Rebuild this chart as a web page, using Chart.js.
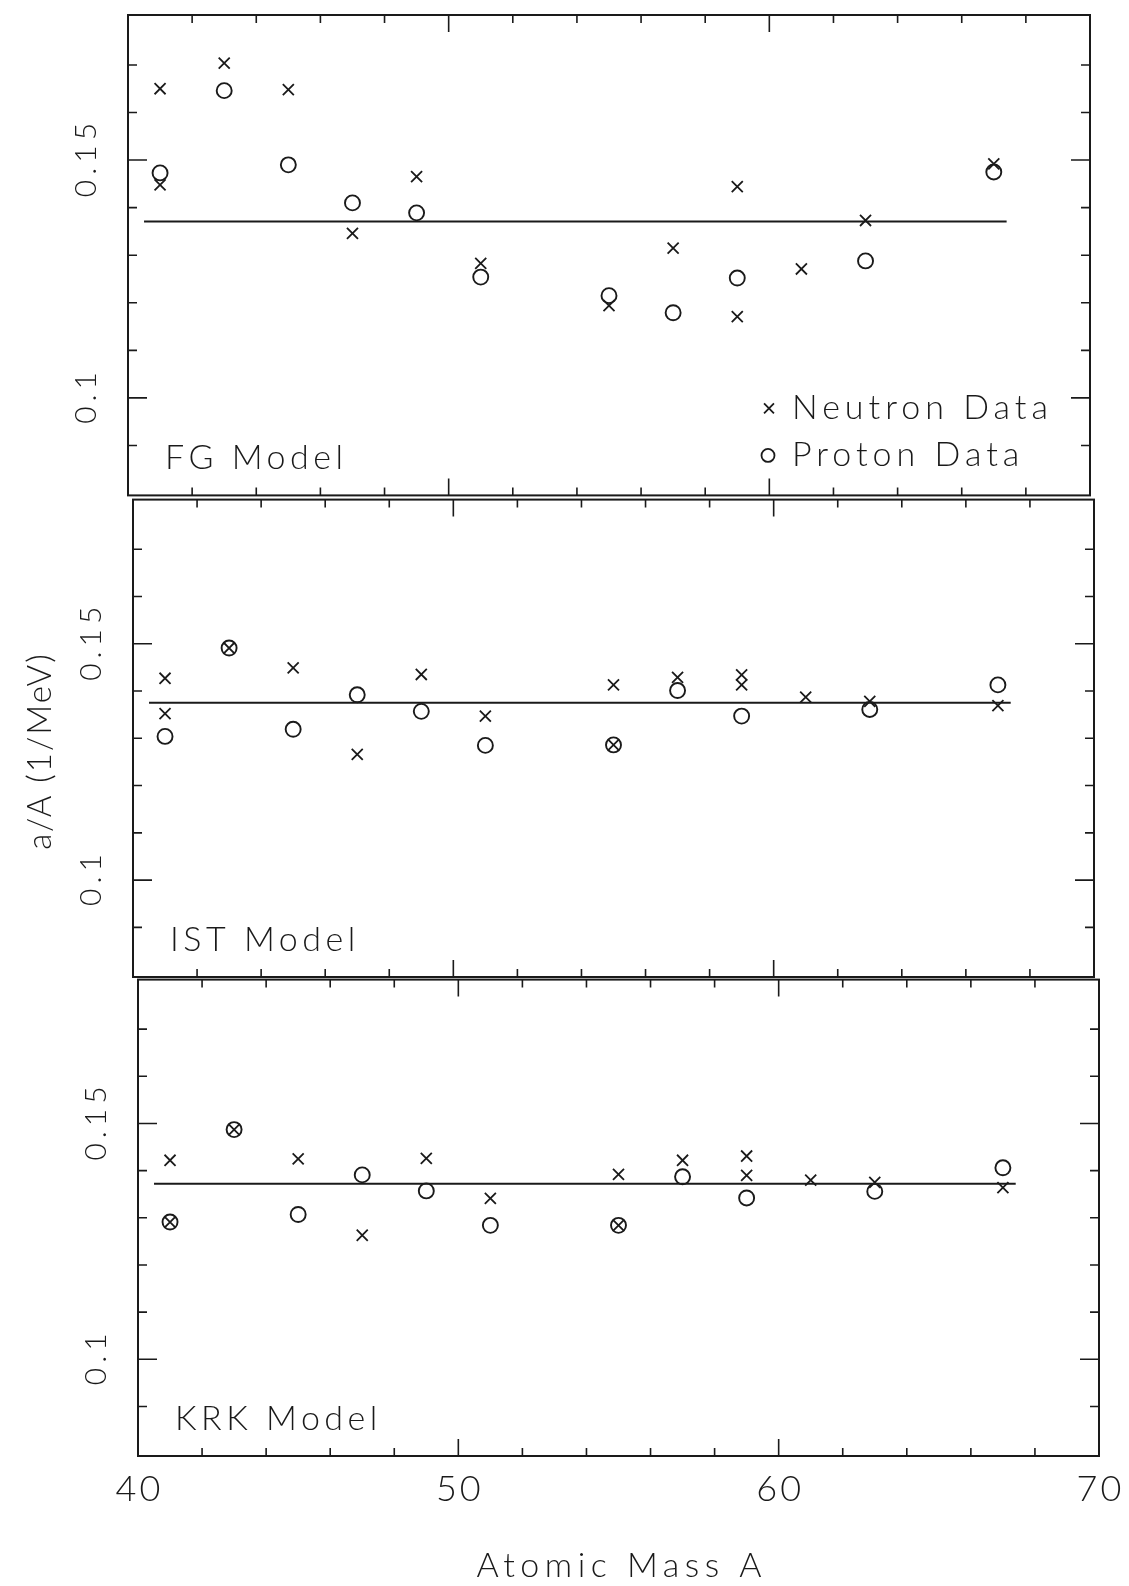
<!DOCTYPE html>
<html><head><meta charset="utf-8">
<script src="https://cdn.jsdelivr.net/npm/chart.js@4.4.1/dist/chart.umd.min.js"></script>
<style>
html,body{margin:0;padding:0;background:#fff;}
#wrap{position:relative;width:1129px;height:1586px;overflow:hidden;background:#fff;}
canvas{position:absolute;left:0;}
</style></head><body>
<div id="wrap">
<canvas id="c1" width="1129" height="505" style="top:0px"></canvas>
<canvas id="c2" width="1129" height="500" style="top:490px"></canvas>
<canvas id="c3" width="1129" height="616" style="top:970px"></canvas>
</div>
<script>
// ---------- data ----------
const fgNeutronA = [41,41,43,45,47,49,51,55,57,59,59,61,63,67];
const fgNeutron  = [0.1650,0.1448,0.1704,0.1648,0.1346,0.1465,0.1283,0.1194,0.1315,0.1444,0.1171,0.1271,0.1373,0.1492];
const fgProtonA  = [41,43,45,47,49,51,55,57,59,63,67];
const fgProton   = [0.1473,0.1646,0.1490,0.1410,0.1389,0.1254,0.1215,0.1179,0.1252,0.1288,0.1475];

const istNeutronA = [41,41,43,45,47,49,51,55,55,57,59,59,61,63,67];
const istNeutron  = [0.1427,0.1352,0.1491,0.1449,0.1266,0.1435,0.1347,0.1413,0.1286,0.1429,0.1434,0.1413,0.1387,0.1378,0.1369];
const istProtonA  = [41,43,45,47,49,51,55,57,59,63,67];
const istProton   = [0.1304,0.1491,0.1319,0.1392,0.1357,0.1285,0.1286,0.1401,0.1347,0.1361,0.1413];

const krkNeutronA = [41,41,43,45,47,49,51,55,55,57,59,59,61,63,67];
const krkNeutron  = [0.1422,0.1291,0.1487,0.1425,0.1263,0.1426,0.1341,0.1392,0.1284,0.1422,0.1431,0.1390,0.1380,0.1375,0.1364];
const krkProtonA  = [41,43,45,47,49,51,55,57,59,63,67];
const krkProton   = [0.1291,0.1487,0.1307,0.1391,0.1357,0.1284,0.1284,0.1387,0.1342,0.1356,0.1406];

const lineA    = [40.5, 67.4];
const fgLine   = 0.1371;
const istLine  = 0.1375;
const krkLine  = 0.1372;

const panelNames   = ['FG Model','IST Model','KRK Model'];
const legendNames  = ['Neutron Data','Proton Data'];
const xTitle = 'Atomic Mass A';
const yTitle = 'a/A (1/MeV)';

const xMinorTicks = [42,44,46,48,52,54,56,58,62,64,66,68];
const xMajorTicks = [50,60];
const yMinorTicks = [0.09,0.11,0.12,0.13,0.14,0.16,0.17];
const yMajorTicks = [0.10,0.15];
const xTickValues = [40,50,60,70];
const xTickLabels = ['40','50','60','70'];
const yTickValues = [0.10,0.15];
const yTickLabels = ['0.1','0.15'];

// ---------- build ----------
function pts(a, v){ return a.map((x,i)=>({x:x, y:v[i]})); }
const FONT = 'Lato, "DejaVu Sans", sans-serif';
const INK = '#1a1a1a';

function drawText(ctx, txt, x, y, size, spacing, align, rot){
  ctx.save();
  ctx.translate(x, y);
  if (rot) ctx.rotate(rot);
  ctx.font = '300 ' + size + 'px ' + FONT;
  try { ctx.letterSpacing = spacing + 'px'; } catch(e) {}
  ctx.fillStyle = INK;
  ctx.textBaseline = 'middle';
  let w = ctx.measureText(txt).width;
  let sx = align === 'center' ? -w/2 + spacing/2 : 0;
  ctx.textAlign = 'left';
  ctx.fillText(txt, sx, 0);
  ctx.restore();
}

const framePlugin = {
  id: 'frame',
  afterDraw(chart){
    const o = chart.options.plugins.frame;
    const ctx = chart.ctx;
    const {left, right, top, bottom} = chart.chartArea;
    const xs = chart.scales.x, ys = chart.scales.y;
    ctx.save();
    ctx.strokeStyle = INK;
    ctx.lineWidth = 2;
    ctx.strokeRect(left, top, right-left, bottom-top);
    ctx.lineWidth = 1.6;
    ctx.beginPath();
    xMinorTicks.concat(xMajorTicks).forEach(v=>{
      const L = xMajorTicks.includes(v) ? 17 : 8;
      const px = xs.getPixelForValue(v);
      ctx.moveTo(px, top); ctx.lineTo(px, top+L);
      ctx.moveTo(px, bottom); ctx.lineTo(px, bottom-L);
    });
    yMinorTicks.concat(yMajorTicks).forEach(v=>{
      const L = yMajorTicks.includes(v) ? 19 : 9;
      const py = ys.getPixelForValue(v);
      ctx.moveTo(left, py); ctx.lineTo(left+L, py);
      ctx.moveTo(right, py); ctx.lineTo(right-L, py);
    });
    ctx.stroke();
    ctx.restore();

    // y tick labels (rotated)
    yTickValues.forEach((v,i)=>{
      drawText(ctx, yTickLabels[i], left-42, ys.getPixelForValue(v), 30, 5, 'center', -Math.PI/2);
    });
    // panel name
    drawText(ctx, o.name, left+37, bottom-37, 34, 4.5, 'left', 0);

    if (o.legend){
      const Hh = Chart.helpers;
      ctx.save();
      ctx.strokeStyle = INK; ctx.fillStyle = 'rgba(0,0,0,0)'; ctx.lineWidth = 1.8;
      Hh.drawPoint(ctx, {pointStyle:'crossRot', radius:7, borderWidth:1.8}, 769, bottom-87);
      Hh.drawPoint(ctx, {pointStyle:'circle', radius:6.5, borderWidth:1.8}, 768, bottom-40);
      ctx.restore();
      drawText(ctx, legendNames[0], 792, bottom-87, 34, 5, 'left', 0);
      drawText(ctx, legendNames[1], 792, bottom-40, 34, 5, 'left', 0);
    }
    if (o.xLabels){
      xTickValues.forEach((v,i)=>{
        drawText(ctx, xTickLabels[i], xs.getPixelForValue(v), bottom+33, 36, 3, 'center', 0);
      });
      drawText(ctx, xTitle, 619, bottom+110, 34, 5.5, 'center', 0);
    }
    if (o.yTitle){
      drawText(ctx, yTitle, 40, o.yTitleY, 33, 2, 'center', -Math.PI/2);
    }
  }
};
Chart.register(framePlugin);

const panels = [
  {id:'c1', top:0,   h:505, area:{l:128,r:1090,t:15, b:497},  name:panelNames[0], n:pts(fgNeutronA,fgNeutron),  p:pts(fgProtonA,fgProton),  line:fgLine,  legend:true},
  {id:'c2', top:490, h:500, area:{l:133,r:1094,t:497,b:977},  name:panelNames[1], n:pts(istNeutronA,istNeutron), p:pts(istProtonA,istProton), line:istLine, yTitle:true},
  {id:'c3', top:970, h:616, area:{l:138,r:1099,t:977,b:1456}, name:panelNames[2], n:pts(krkNeutronA,krkNeutron), p:pts(krkProtonA,krkProton), line:krkLine, xLabels:true}
];

panels.forEach(P=>{
  new Chart(document.getElementById(P.id), {
    type:'scatter',
    data:{datasets:[
      {type:'line', data:lineA.map(a=>({x:a,y:P.line})), borderColor:INK, borderWidth:2, pointRadius:0, fill:false, order:3},
      {label:legendNames[1], data:P.p, pointStyle:'circle', pointRadius:7.5, borderWidth:1.9, borderColor:INK, backgroundColor:'rgba(0,0,0,0)', order:2},
      {label:legendNames[0], data:P.n, pointStyle:'crossRot', pointRadius:7.8, borderWidth:1.8, borderColor:INK, backgroundColor:INK, order:1}
    ]},
    options:{
      responsive:false, animation:false, devicePixelRatio:1,
      layout:{padding:{left:P.area.l, right:1129-P.area.r, top:P.area.t-P.top, bottom:P.top+P.h-P.area.b}},
      scales:{
        x:{type:'linear', min:40, max:70, display:false},
        y:{type:'linear', min:0.0795, max:0.1805, display:false}
      },
      plugins:{
        legend:{display:false}, tooltip:{enabled:false},
        frame:{name:P.name, legend:!!P.legend, xLabels:!!P.xLabels, yTitle:!!P.yTitle, yTitleY:752-P.top}
      },
      clip:false
    }
  });
});
</script>
</body></html>
